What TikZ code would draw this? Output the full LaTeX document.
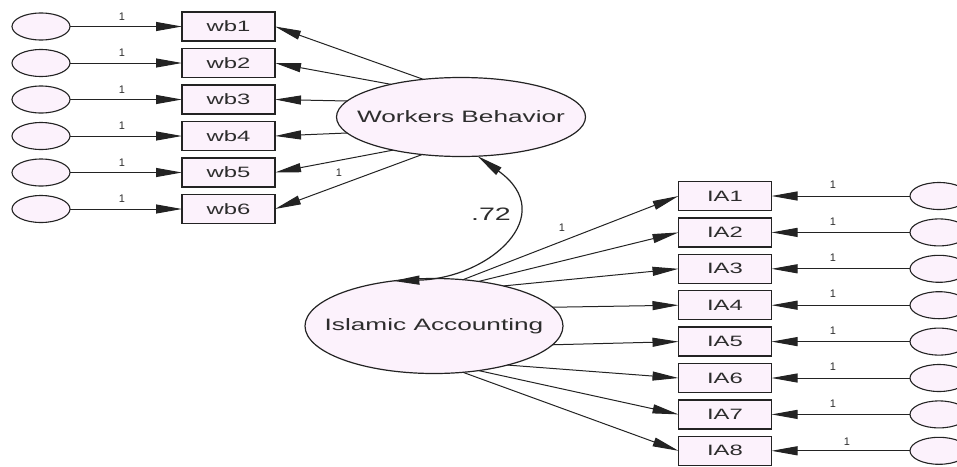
\documentclass[tikz,border=0pt]{standalone}
\usepackage{fontspec}
\setmainfont{Liberation Sans}
\usepackage{graphicx}
\usetikzlibrary{arrows.meta,shapes.geometric}
\definecolor{fillpink}{RGB}{252,242,252}
\definecolor{linegray}{RGB}{35,35,35}
\definecolor{textgray}{RGB}{45,45,45}
\newcommand{\wtext}[1]{\scalebox{1.59}[1]{#1}}
\begin{document}
\begin{tikzpicture}[x=1pt,y=-1pt,
  obs/.style={draw=linegray, line width=1.4pt, fill=fillpink, rectangle, minimum width=93pt, minimum height=29pt, inner sep=0pt, outer sep=0pt, text=textgray},
  err/.style={draw=linegray, line width=1.1pt, fill=fillpink, ellipse, minimum width=58pt, minimum height=27pt, inner sep=0pt, outer sep=0pt},
  lat/.style={draw=linegray, line width=1.2pt, fill=fillpink, ellipse, inner sep=0pt, outer sep=0pt},
  arr/.style={-{Triangle[length=26pt,width=9pt]}, line width=1pt, draw=linegray},
  one/.style={font=\fontsize{11}{11}\selectfont, inner sep=0pt, text=textgray}
]
\useasboundingbox (0,0) rectangle (957,466);
% latent variables
\node[lat, minimum width=249pt, minimum height=79pt,
  label={[text=textgray]center:\wtext{\fontsize{16.5}{17}\selectfont Workers Behavior}}] (WB) at (461,117) {};
\node[lat, minimum width=258pt, minimum height=95pt,
  label={[text=textgray]center:\wtext{\fontsize{16.5}{17}\selectfont Islamic Accounting}}] (IA) at (434,326) {};
% left side
\foreach \i/\ang in {1/135,2/155,3/172,4/188,5/206,6/224}{
  \pgfmathsetmacro{\yy}{26.5+36.5*(\i-1)}
  \node[err] (ew\i) at (41,\yy) {};
  \node[obs] (wb\i) at (228.5,\yy) {\wtext{\fontsize{15}{15}\selectfont wb\i}};
  \draw[arr] (ew\i) -- (wb\i);
  \node[one] (lw\i) at (122,\yy-10) {1};
  \draw[arr] (WB.\ang) -- (wb\i.east);
}
% right side
\foreach \i/\ang in {1/58,2/45,3/30,4/9,5/-9,6/-28,7/-45,8/-58}{
  \pgfmathsetmacro{\yy}{196+36.4*(\i-1)}
  \node[err] (ei\i) at (939,\yy) {};
  \node[obs] (ia\i) at (725,\yy) {\wtext{\fontsize{15}{15}\selectfont IA\i}};
  \draw[arr] (ei\i) -- (ia\i);
  \draw[arr] (IA.\ang) -- (ia\i.west);
}
\foreach \i in {1,...,7}{
  \pgfmathsetmacro{\yy}{196+36.4*(\i-1)}
  \node[one] (li\i) at (833,\yy-11) {1};
}
\node[one] (li8) at (847,442) {1};
\node[one] (lwb6) at (339,173) {1};
\node[one] (lia1) at (562,228) {1};
% covariance
\draw[line width=1.2pt, draw=linegray, {Triangle[length=26pt,width=9pt]}-{Triangle[length=26pt,width=9pt]}]
  (IA.132) .. controls (490,278) and (560,215) .. (WB.293);
\node[inner sep=0pt, text=textgray] (cov) at (491,214) {\wtext{\fontsize{18}{18}\selectfont .72}};
\end{tikzpicture}
\end{document}
